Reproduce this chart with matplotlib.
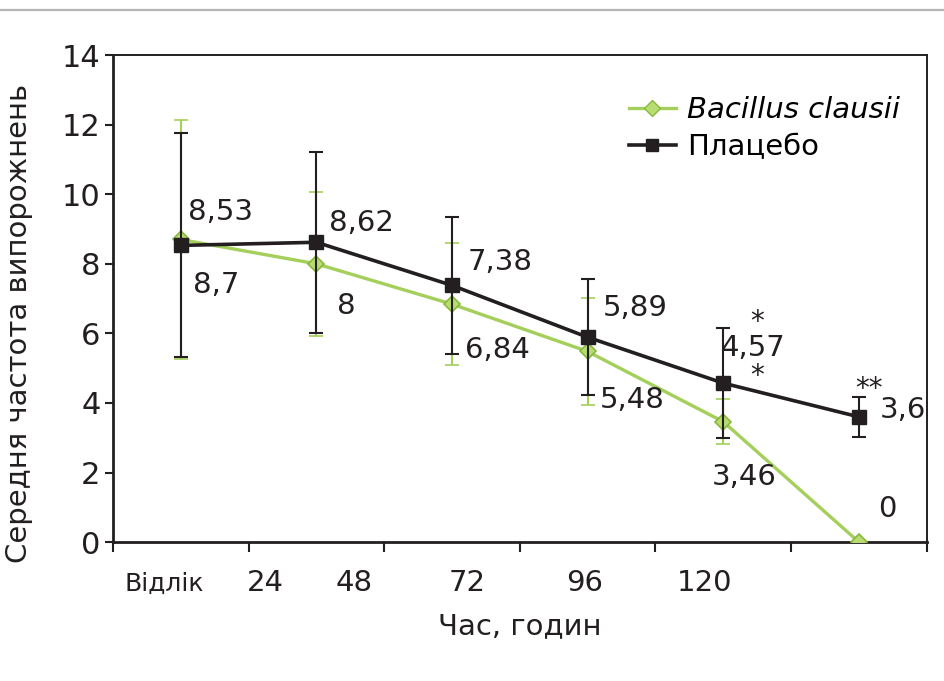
import matplotlib.pyplot as plt
from matplotlib.lines import Line2D

plt.rcParams['font.family'] = ['DejaVu Sans']

# data
categories = ['Відлік', '24', '48', '72', '96', '120']
bacillus = [8.7, 8.0, 6.84, 5.48, 3.46, 0.0]
bacillus_err = [3.43, 2.07, 1.75, 1.53, 0.65, 0.0]
placebo = [8.53, 8.62, 7.38, 5.89, 4.57, 3.6]
placebo_err = [3.22, 2.60, 1.96, 1.67, 1.58, 0.57]
bacillus_labels = ['8,7', '8', '6,84', '5,48', '3,46', '0']
placebo_labels = ['8,53', '8,62', '7,38', '5,89', '4,57', '3,6']

green = '#a3cf5a'
green_edge = '#86b93c'
black = '#231f20'

x = list(range(len(bacillus)))

fig = plt.figure(figsize=(9.44, 6.81), dpi=100)
ax = fig.add_axes([0.1197, 0.204, 0.862, 0.715])

# gray rule at top of the figure
fig.add_artist(Line2D([0, 1], [0.985, 0.985], color='#b5b5b5', lw=1.6,
                      transform=fig.transFigure))

ax.errorbar(x, bacillus, yerr=bacillus_err, color=green, lw=2.4,
            marker='D', markersize=8, markerfacecolor='#b8dc72',
            markeredgecolor=green_edge, markeredgewidth=1.2,
            ecolor=green, elinewidth=1.5, capsize=5, capthick=1.5, zorder=3)
ax.errorbar(x, placebo, yerr=placebo_err, color=black, lw=2.6,
            marker='s', markersize=10, ecolor=black, elinewidth=1.5,
            capsize=5, capthick=1.5, zorder=4)

fs = 21
# value labels (offsets in points)
p_off = [(5, 24), (9, 14), (11, 17), (11, 21), (-2, 25), (15, 5)]
b_off = [(9, -33), (15, -30), (9, -33), (9, -35), (-8, -40), (14, 24)]
for i in x:
    ax.annotate(placebo_labels[i], (x[i], placebo[i]), xytext=p_off[i],
                textcoords='offset points', ha='left', va='center',
                fontsize=fs, color=black, zorder=5)
    ax.annotate(bacillus_labels[i], (x[i], bacillus[i]), xytext=b_off[i],
                textcoords='offset points', ha='left', va='center',
                fontsize=fs, color=black, zorder=5)

# significance marks
ax.annotate('*', (x[4], placebo[4]), xytext=(24, 44), textcoords='offset points',
            ha='center', va='center', fontsize=20, color=black)
ax.annotate('*', (x[4], placebo[4]), xytext=(24, 5), textcoords='offset points',
            ha='center', va='center', fontsize=20, color=black)
ax.annotate('**', (x[5], placebo[5]), xytext=(7, 20), textcoords='offset points',
            ha='center', va='center', fontsize=20, color=black)

ax.set_xlim(-0.5, 5.5)
ax.set_ylim(0, 14)
ax.set_yticks(range(0, 15, 2))
ax.set_xticks([i - 0.5 for i in range(len(categories) + 1)])
ax.set_xticklabels([])
ax.tick_params(axis='y', labelsize=fs + 1, direction='out', length=6, width=1.5,
               colors=black, pad=3)
ax.tick_params(axis='x', direction='out', length=7, width=1.5, colors=black)

# category labels sit off the tick grid in the original
label_x = [-0.12, 0.62, 1.28, 2.11, 2.98, 3.86]
for lx, lab in zip(label_x, categories):
    ax.text(lx, -0.085, lab, transform=ax.get_xaxis_transform(),
            ha='center', va='center',
            fontsize=fs if lab != 'Відлік' else fs - 3, color=black)

for side in ['left', 'bottom']:
    ax.spines[side].set_linewidth(2.0)
for side in ['top', 'right']:
    ax.spines[side].set_linewidth(1.4)
for s in ax.spines.values():
    s.set_color(black)

ax.set_xlabel('Час, годин', fontsize=fs, labelpad=40, color=black)
ax.set_ylabel('Середня частота випорожнень', fontsize=fs, color=black)
ax.yaxis.set_label_coords(-0.098, 0.45)

handles = [
    Line2D([], [], color=green, lw=2.4, marker='D', markersize=8,
           markerfacecolor='#b8dc72', markeredgecolor=green_edge),
    Line2D([], [], color=black, lw=2.6, marker='s', markersize=8),
]
leg = ax.legend(handles, ['Bacillus clausii', 'Плацебо'], loc='upper right',
                bbox_to_anchor=(1.0, 0.97), frameon=False, fontsize=fs,
                handlelength=1.6, handletextpad=0.4, labelspacing=0.3)
leg.get_texts()[0].set_fontstyle('italic')

fig.savefig('out.png', dpi=100)
